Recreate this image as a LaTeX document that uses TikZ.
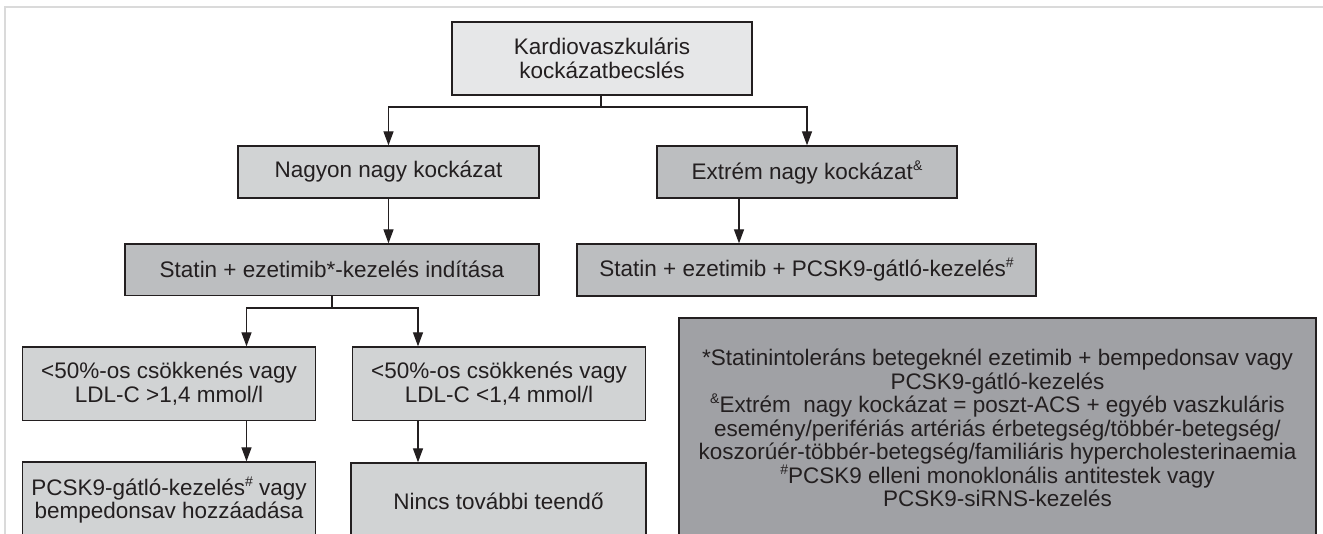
\documentclass[tikz,border=0pt]{standalone}
\usepackage{fontspec}
\setmainfont{Liberation Sans}
\usetikzlibrary{arrows.meta}
\definecolor{ink}{HTML}{231F20}
\definecolor{fillA}{HTML}{E6E7E8}
\definecolor{fillB}{HTML}{D1D3D4}
\definecolor{fillC}{HTML}{BCBEC0}
\definecolor{fillD}{HTML}{A0A1A5}
\definecolor{framegray}{HTML}{DADADA}
\newcommand{\smsup}[1]{\raisebox{0.4em}{\fontsize{14pt}{14pt}\selectfont #1}}
\begin{document}
\begin{tikzpicture}[x=1pt,y=-1pt,
  box/.style={draw=ink, line width=1.3pt, text=ink, align=center, inner sep=0pt,
    font=\fontsize{22.5pt}{23.5pt}\selectfont},
  conn/.style={draw=ink, line width=1.3pt},
  arr/.style={conn, -{Triangle[length=14pt,width=10pt]}}
]
\useasboundingbox (0,0) rectangle (1323,534);
\clip (0,0) rectangle (1323,534);
\fill[white] (0,0) rectangle (1323,534);
\draw[framegray, line width=2pt] (5,560) -- (5,7) -- (1340,7);

\node[box, fill=fillA, minimum width=300pt, minimum height=73pt] (top) at (602,58.5) {Kardiovaszkuláris\\kockázatbecslés};
\node[box, fill=fillB, minimum width=301pt, minimum height=52pt] (nagyon) at (388.5,172) {Nagyon nagy kockázat};
\node[box, fill=fillC, minimum width=300pt, minimum height=52pt] (extrem) at (807,172) {Extrém nagy kockázat\smsup{\&}};
\node[box, fill=fillC, minimum width=414pt, minimum height=51.5pt] (statinA) at (332,269.75) {Statin + ezetimib*-kezelés indítása};
\node[box, fill=fillC, minimum width=459pt, minimum height=52pt] (statinB) at (806.5,270) {Statin + ezetimib + PCSK9-gátló-kezelés\smsup{\#}};
\node[box, fill=fillB, minimum width=293pt, minimum height=73.5pt] (redA) at (169,383.75) {<50\%-os csökkenés vagy\\LDL-C >1,4 mmol/l};
\node[box, fill=fillB, minimum width=293pt, minimum height=73.5pt] (redB) at (499,383.75) {<50\%-os csökkenés vagy\\LDL-C <1,4 mmol/l};
\node[box, fill=fillB, minimum width=293pt, minimum height=76pt] (addA) at (169,500) {PCSK9-gátló-kezelés\smsup{\#} vagy\\bempedonsav hozzáadása};
\node[box, fill=fillB, minimum width=295pt, minimum height=76pt] (noneB) at (498.5,501) {Nincs további teendő};
\node[box, fill=fillD, minimum width=637pt, minimum height=220pt] (note) at (997.5,428) {*Statinintoleráns betegeknél ezetimib + bempedonsav vagy\\PCSK9-gátló-kezelés\\\smsup{\&}Extrém\ \ nagy kockázat = poszt-ACS + egyéb vaszkuláris\\esemény/perifériás artériás érbetegség/többér-betegség/\\koszorúér-többér-betegség/familiáris hypercholesterinaemia\\\smsup{\#}PCSK9 elleni monoklonális antitestek vagy\\PCSK9-siRNS-kezelés};

\coordinate (j1) at (601,107);
\coordinate (e1) at ([xshift=-68pt]extrem.south);
\coordinate (j2) at (332,308);
\coordinate (a1) at ([xshift=77.5pt]redA.south);
\coordinate (b1) at ([xshift=-81pt]redB.south);
\draw[conn] (top.south -| j1) -- (j1);
\draw[arr] (j1) -| (nagyon.north);
\draw[arr] (j1) -| (extrem.north);
\draw[arr] (nagyon.south) -- (statinA.north -| nagyon.south);
\draw[arr] (e1) -- (statinB.north -| e1);
\draw[conn] (statinA.south) -- (j2);
\draw[arr] (j2) -| (redA.north -| a1);
\draw[arr] (j2) -| (redB.north -| b1);
\draw[arr] (a1) -- (addA.north -| a1);
\draw[arr] (b1) -- (noneB.north -| b1);
\end{tikzpicture}
\end{document}
